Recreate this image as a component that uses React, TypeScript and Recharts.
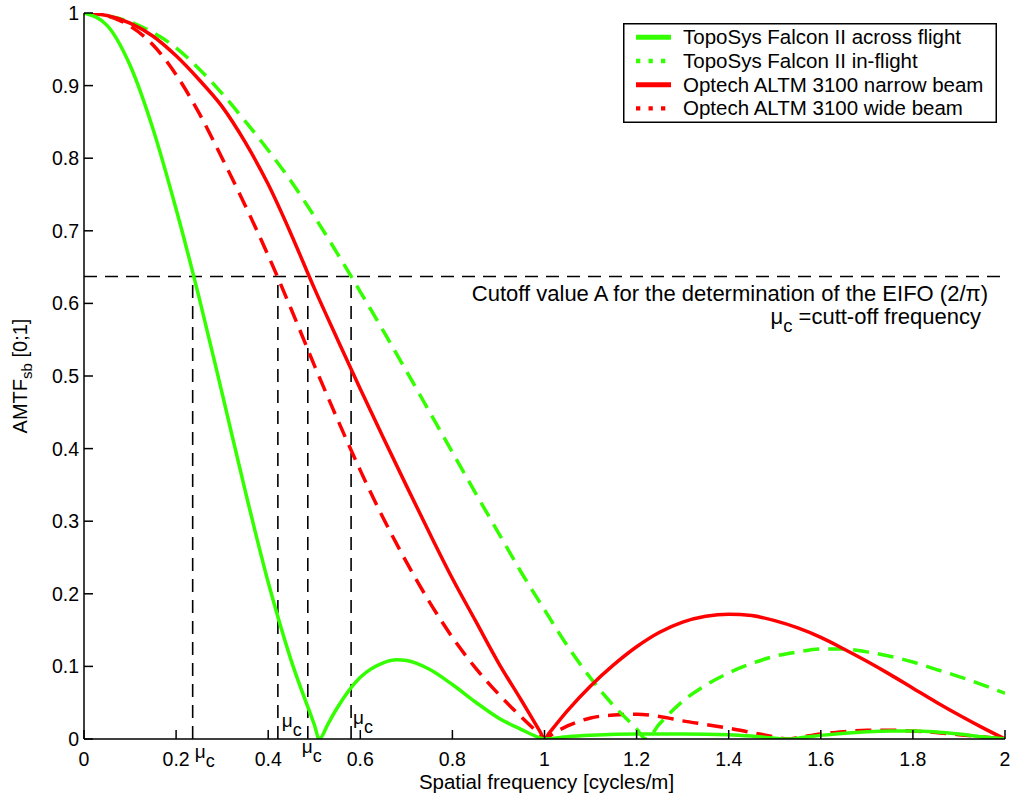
import React from "react";
import { LineChart, Line, XAxis, YAxis, ReferenceLine, Legend, Label } from "recharts";

const FONT = '"Liberation Sans", Arial, Helvetica, sans-serif';
const GREEN = "#33ff00";
const RED = "#ff0000";

// axis ticks
const xTicks = [0, 0.2, 0.4, 0.6, 0.8, 1, 1.2, 1.4, 1.6, 1.8, 2];
const yTicks = [0, 0.1, 0.2, 0.3, 0.4, 0.5, 0.6, 0.7, 0.8, 0.9, 1];

// TopoSys Falcon II across flight
const acrossFreq = [0, 0.05, 0.1, 0.15, 0.2, 0.25, 0.3, 0.35, 0.4, 0.45, 0.5, 0.511, 0.53, 0.55, 0.6, 0.65, 0.68, 0.7, 0.75, 0.8, 0.85, 0.9, 0.95, 0.98, 1.0, 1.05, 1.1, 1.2, 1.3, 1.4, 1.45, 1.5, 1.53, 1.56, 1.6, 1.7, 1.75, 1.8, 1.9, 1.95, 2.0];
const acrossAmtf = [1.0, 0.983, 0.928, 0.84, 0.73, 0.608, 0.476, 0.342, 0.216, 0.108, 0.02, 0, 0.021, 0.043, 0.085, 0.105, 0.109, 0.108, 0.096, 0.075, 0.051, 0.029, 0.013, 0.004, 0, 0.003, 0.005, 0.007, 0.007, 0.006, 0.004, 0.001, 0, 0.002, 0.005, 0.01, 0.011, 0.011, 0.007, 0.003, 0];

// TopoSys Falcon II in-flight
const inFlightFreq = [0, 0.05, 0.1, 0.15, 0.2, 0.25, 0.3, 0.35, 0.4, 0.45, 0.5, 0.55, 0.6, 0.65, 0.7, 0.75, 0.8, 0.85, 0.9, 0.95, 1.0, 1.05, 1.1, 1.15, 1.2, 1.22, 1.25, 1.3, 1.35, 1.4, 1.45, 1.5, 1.55, 1.6, 1.65, 1.7, 1.75, 1.8, 1.85, 1.9, 1.95, 2.0];
const inFlightAmtf = [1.0, 0.996, 0.988, 0.973, 0.952, 0.923, 0.889, 0.851, 0.811, 0.768, 0.72, 0.669, 0.616, 0.562, 0.507, 0.451, 0.395, 0.339, 0.284, 0.229, 0.178, 0.128, 0.084, 0.046, 0.014, 0, 0.021, 0.052, 0.074, 0.091, 0.104, 0.114, 0.12, 0.124, 0.124, 0.12, 0.114, 0.106, 0.096, 0.086, 0.075, 0.063];

// Optech ALTM 3100 narrow beam
const narrowFreq = [0, 0.05, 0.1, 0.15, 0.2, 0.25, 0.3, 0.35, 0.4, 0.45, 0.5, 0.55, 0.6, 0.65, 0.7, 0.75, 0.8, 0.85, 0.9, 0.95, 0.99, 1.0, 1.01, 1.05, 1.1, 1.15, 1.2, 1.25, 1.3, 1.35, 1.4, 1.45, 1.5, 1.55, 1.6, 1.65, 1.7, 1.75, 1.8, 1.85, 1.9, 1.95, 2.0];
const narrowAmtf = [1.0, 0.9965, 0.986, 0.968, 0.941, 0.908, 0.871, 0.822, 0.764, 0.695, 0.621, 0.551, 0.482, 0.415, 0.349, 0.284, 0.221, 0.163, 0.105, 0.053, 0.0105, 0, 0.008, 0.039, 0.073, 0.102, 0.127, 0.147, 0.161, 0.169, 0.172, 0.17, 0.163, 0.153, 0.14, 0.124, 0.107, 0.089, 0.07, 0.051, 0.033, 0.016, 0];

// Optech ALTM 3100 wide beam
const wideFreq = [0, 0.05, 0.1, 0.15, 0.2, 0.25, 0.3, 0.35, 0.4, 0.45, 0.5, 0.55, 0.6, 0.65, 0.7, 0.75, 0.8, 0.85, 0.9, 0.95, 0.99, 1.0, 1.02, 1.05, 1.1, 1.15, 1.2, 1.25, 1.3, 1.35, 1.4, 1.45, 1.5, 1.528, 1.55, 1.6, 1.65, 1.7, 1.75, 1.8, 1.85, 1.9, 1.95, 2.0];
const wideAmtf = [1.0, 0.996, 0.982, 0.956, 0.915, 0.862, 0.8, 0.735, 0.666, 0.592, 0.515, 0.441, 0.37, 0.304, 0.244, 0.189, 0.14, 0.098, 0.062, 0.03, 0.006, 0, 0.008, 0.018, 0.029, 0.033, 0.034, 0.031, 0.025, 0.02, 0.015, 0.009, 0.003, 0, 0.002, 0.007, 0.01, 0.012, 0.012, 0.011, 0.009, 0.006, 0.003, 0];

// cutoff value A (2/pi) and the cut-off frequencies
const cutoffValue = 0.637;
const cutoffFreqs = [0.236, 0.421, 0.486, 0.58];

const toRows = (freq: number[], amtf: number[]) => freq.map((f, i) => ({ f, v: amtf[i] }));

const series = [
  { name: "TopoSys Falcon II across flight", data: toRows(acrossFreq, acrossAmtf), color: GREEN, dashed: false },
  { name: "TopoSys Falcon II in-flight", data: toRows(inFlightFreq, inFlightAmtf), color: GREEN, dashed: true },
  { name: "Optech ALTM 3100 narrow beam", data: toRows(narrowFreq, narrowAmtf), color: RED, dashed: false },
  { name: "Optech ALTM 3100 wide beam", data: toRows(wideFreq, wideAmtf), color: RED, dashed: true },
];
// drawing order (back to front)
const drawOrder = [3, 1, 2, 0];

// where each mu_c label sits, relative to its line foot: [dx, dy of mu baseline]
const muOffsets = [
  [2, 19],
  [4, -12],
  [-6, 14],
  [2, -15],
];

const BottomTick = (props: any) => {
  const { x, y, payload } = props;
  return (
    <g>
      <line x1={x} x2={x} y1={y} y2={y - 9} stroke="#000" strokeWidth={1.5} />
      <text x={x} y={y + 27} textAnchor="middle" fontSize={19.5} fontFamily={FONT} fill="#000">
        {String(payload.value)}
      </text>
    </g>
  );
};

const TopTick = (props: any) => {
  const { x, y } = props;
  return <line x1={x} x2={x} y1={y} y2={y + 9} stroke="#000" strokeWidth={1.5} />;
};

const LeftTick = (props: any) => {
  const { x, y, payload } = props;
  return (
    <g>
      <line x1={x} x2={x + 9} y1={y} y2={y} stroke="#000" strokeWidth={1.5} />
      <text x={x - 5} y={y + 7} textAnchor="end" fontSize={19.5} fontFamily={FONT} fill="#000">
        {String(payload.value)}
      </text>
    </g>
  );
};

const RightTick = (props: any) => {
  const { x, y } = props;
  return <line x1={x} x2={x - 9} y1={y} y2={y} stroke="#000" strokeWidth={1.5} />;
};

const muLabel = (dx: number, dy: number) => (props: any) => {
  const vb = props.viewBox;
  const bx = vb.x + dx;
  const by = vb.y + vb.height + dy;
  return (
    <text x={bx} y={by} fontSize={19} fontFamily={FONT} fill="#000">
      μ<tspan dy={9} fontSize={18}>c</tspan>
    </text>
  );
};

const cutoffLabel = (props: any) => {
  const vb = props.viewBox;
  const right = vb.x + vb.width;
  return (
    <g fontFamily={FONT} fill="#000">
      <text x={right - 17} y={vb.y + 24} textAnchor="end" fontSize={22}>
        Cutoff value A for the determination of the EIFO (2/π)
      </text>
      <text x={right - 24} y={vb.y + 47} textAnchor="end" fontSize={22}>
        μ<tspan dy={8} fontSize={18.5}>c</tspan>
        <tspan dy={-8}> =cutt-off frequency</tspan>
      </text>
    </g>
  );
};

const LegendBox = () => (
  <svg width={374} height={100} style={{ display: "block" }}>
    <rect x={0.75} y={0.75} width={372.5} height={98.5} fill="#fff" stroke="#000" strokeWidth={1.5} />
    {series.map((s, i) => {
      const cy = 14.3 + i * 23.7;
      return (
        <g key={s.name}>
          {s.dashed ? (
            <line x1={13} x2={50} y1={cy} y2={cy} stroke={s.color} strokeWidth={4.3} strokeDasharray="4.3 8.2" />
          ) : (
            <line x1={13} x2={48} y1={cy} y2={cy} stroke={s.color} strokeWidth={5} />
          )}
          <text x={60} y={cy + 7} fontSize={20.5} fontFamily={FONT} fill="#000">
            {s.name}
          </text>
        </g>
      );
    })}
  </svg>
);

export default function App() {
  return (
    <div style={{ position: "absolute", left: 0, top: 0, width: 1014, height: 800, fontFamily: FONT }}>
      <LineChart width={1014} height={800} margin={{ top: 13, right: 9, bottom: 0, left: 0 }}>
        <XAxis
          dataKey="f"
          type="number"
          domain={[0, 2]}
          ticks={xTicks}
          interval={0}
          allowDataOverflow
          height={61}
          tickSize={0}
          tickMargin={0}
          tickLine={false}
          tick={<BottomTick />}
          axisLine={{ stroke: "#000", strokeWidth: 1.5 }}
        >
          <Label
            content={(p: any) => (
              <text
                x={p.viewBox.x + p.viewBox.width / 2 + 2}
                y={p.viewBox.y + 50}
                textAnchor="middle"
                fontSize={20.5}
                fontFamily={FONT}
                fill="#000"
              >
                Spatial frequency [cycles/m]
              </text>
            )}
          />
        </XAxis>
        <XAxis
          xAxisId="top"
          orientation="top"
          type="number"
          domain={[0, 2]}
          ticks={xTicks}
          interval={0}
          allowDataOverflow
          height={0}
          tickSize={0}
          tickMargin={0}
          tickLine={false}
          tick={<TopTick />}
          axisLine={{ stroke: "#000", strokeWidth: 1.5 }}
        />
        <YAxis
          type="number"
          domain={[0, 1]}
          ticks={yTicks}
          interval={0}
          allowDataOverflow
          width={84}
          tickSize={0}
          tickMargin={0}
          tickLine={false}
          tick={<LeftTick />}
          axisLine={{ stroke: "#000", strokeWidth: 1.5 }}
        >
          <Label
            content={(p: any) => {
              const cx = 27;
              const cy = p.viewBox.y + p.viewBox.height / 2;
              return (
                <text
                  x={cx}
                  y={cy}
                  transform={`rotate(-90 ${cx} ${cy})`}
                  textAnchor="middle"
                  fontSize={20}
                  fontFamily={FONT}
                  fill="#000"
                >
                  AMTF<tspan dy={5} fontSize={15}>sb</tspan>
                  <tspan dy={-5}> [0;1]</tspan>
                </text>
              );
            }}
          />
        </YAxis>
        <YAxis
          yAxisId="right"
          orientation="right"
          type="number"
          domain={[0, 1]}
          ticks={yTicks}
          interval={0}
          allowDataOverflow
          width={0}
          tickSize={0}
          tickMargin={0}
          tickLine={false}
          tick={<RightTick />}
          axisLine={{ stroke: "#000", strokeWidth: 1.5 }}
        />

        <ReferenceLine
          y={cutoffValue}
          stroke="#000"
          strokeWidth={1.6}
          strokeDasharray="13 8"
          label={cutoffLabel}
        />
        {cutoffFreqs.map((f, i) => (
          <ReferenceLine
            key={`mu-${i}`}
            segment={[
              { x: f, y: 0 },
              { x: f, y: cutoffValue },
            ]}
            stroke="#000"
            strokeWidth={1.6}
            strokeDasharray="13 8"
            label={muLabel(muOffsets[i][0], muOffsets[i][1])}
          />
        ))}

        {drawOrder.map((idx) => {
          const s = series[idx];
          return (
            <Line
              key={s.name}
              name={s.name}
              data={s.data}
              dataKey="v"
              type="monotone"
              stroke={s.color}
              strokeWidth={3.5}
              strokeDasharray={s.dashed ? "16 9" : undefined}
              dot={false}
              activeDot={false}
              isAnimationActive={false}
            />
          );
        })}

        <Legend
          layout="vertical"
          align="center"
          verticalAlign="middle"
          width={374}
          height={100}
          wrapperStyle={{ left: 623, top: 23, width: 374, height: 100 }}
          content={() => <LegendBox />}
        />
      </LineChart>
    </div>
  );
}
